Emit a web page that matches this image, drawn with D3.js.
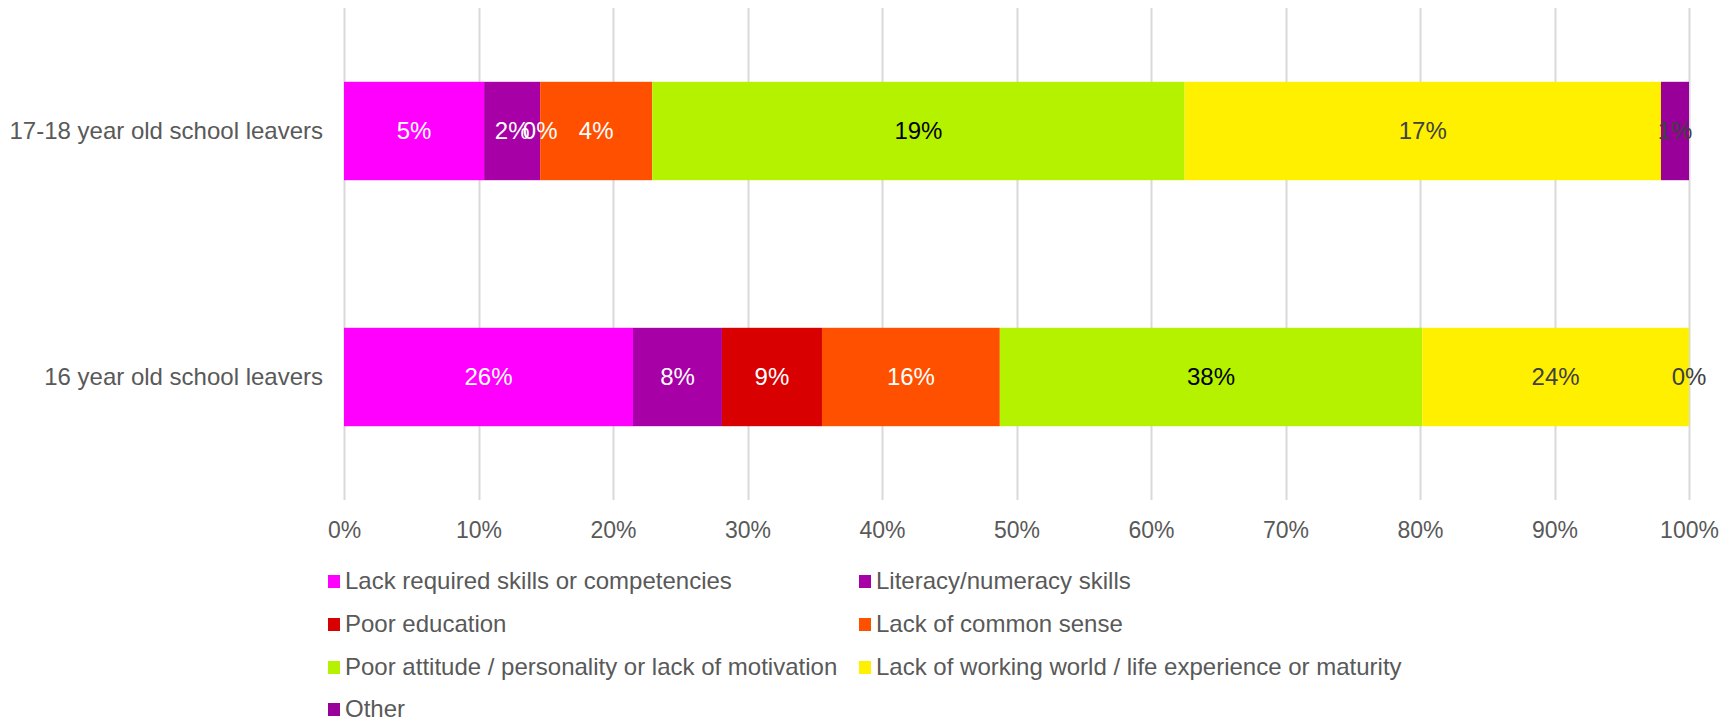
<!DOCTYPE html>
<html lang="en">
<head>
<meta charset="utf-8">
<title>School leavers stacked bar</title>
<script src="https://d3js.org/d3.v7.min.js"></script>
<style>
  body { margin: 0; background: #fff; }
  text { font-family: "Liberation Sans", Arial, sans-serif; }
</style>
</head>
<body>
<script>
// categories, top to bottom
var categories = ["17-18 year old school leavers", "16 year old school leavers"];
var series = ["Lack required skills or competencies", "Literacy/numeracy skills",
  "Poor education", "Lack of common sense",
  "Poor attitude / personality or lack of motivation", "Lack of working world / life experience or maturity",
  "Other"];
var colors = ["#ff00ff", "#a600a6", "#d80000", "#ff5000", "#b4f200", "#fff000", "#990099"];
var labelColors = ["#fff", "#fff", "#fff", "#fff", "#000", "#404040", "#404040"];
// value shown per segment (%)
var values1718 = [5, 2, 0, 4, 19, 17, 1];
var values16 = [26, 8, 9, 16, 38, 24, 0];
var ticks = [0, 0.1, 0.2, 0.3, 0.4, 0.5, 0.6, 0.7, 0.8, 0.9, 1];

var W = 1726, H = 720;
var svg = d3.select("body").append("svg").attr("width", W).attr("height", H);

var rows = [values1718, values16].map(function(v, i) {
  var r = { cat: categories[i] };
  series.forEach(function(s, j) { r[s] = v[j]; });
  return r;
});

var stack = d3.stack().keys(series).offset(d3.stackOffsetExpand);
var layers = stack(rows);

var x = d3.scaleLinear().domain([0, 1]).range([344, 1689]);
var y = d3.scaleBand().domain(categories).range([8, 500]).paddingInner(0.6).paddingOuter(0.3);

// grid
svg.append("g").selectAll("line").data(ticks).enter().append("line")
  .attr("x1", function(d) { return Math.round(x(d)) + 0.5; })
  .attr("x2", function(d) { return Math.round(x(d)) + 0.5; })
  .attr("y1", 8).attr("y2", 500)
  .attr("stroke", "#d9d9d9").attr("stroke-width", 2);

// bars
var g = svg.append("g").selectAll("g").data(layers).enter().append("g")
  .attr("fill", function(d, i) { return colors[i]; });
g.selectAll("rect").data(function(d) { return d; }).enter().append("rect")
  .attr("x", function(d) { return x(d[0]); })
  .attr("width", function(d) { return x(d[1]) - x(d[0]); })
  .attr("y", function(d) { return y(d.data.cat); })
  .attr("height", y.bandwidth());

// segment labels
layers.forEach(function(layer, i) {
  svg.append("g").selectAll("text").data(layer).enter().append("text")
    .attr("x", function(d) { return (x(d[0]) + x(d[1])) / 2; })
    .attr("y", function(d) { return y(d.data.cat) + y.bandwidth() / 2; })
    .attr("dy", "0.35em")
    .attr("text-anchor", "middle")
    .attr("font-size", "24px")
    .attr("fill", labelColors[i])
    .text(function(d) { return d.data[layer.key] + "%"; });
});

// category labels
svg.append("g").selectAll("text").data(categories).enter().append("text")
  .attr("x", 323)
  .attr("y", function(d) { return y(d) + y.bandwidth() / 2; })
  .attr("dy", "0.35em")
  .attr("text-anchor", "end")
  .attr("font-size", "24px")
  .attr("fill", "#595959")
  .text(function(d) { return d; });

// x axis labels
var xAxis = d3.axisBottom(x).tickValues(ticks).tickSize(0).tickPadding(0)
  .tickFormat(d3.format(".0%"));
var ax = svg.append("g").attr("transform", "translate(0,522)").call(xAxis);
ax.select(".domain").remove();
ax.selectAll("text").attr("font-size", "23px").attr("fill", "#595959")
  .attr("font-family", "Liberation Sans, Arial, sans-serif");

// legend
var legX = [328, 859], legY = [581, 624, 667, 709];
var leg = svg.append("g").selectAll("g").data(series).enter().append("g")
  .attr("transform", function(d, i) {
    return "translate(" + legX[i % 2] + "," + legY[Math.floor(i / 2)] + ")";
  });
leg.append("rect").attr("x", 0).attr("y", -6).attr("width", 12).attr("height", 13)
  .attr("fill", function(d, i) { return colors[i]; });
leg.append("text").attr("x", 17).attr("dy", "0.35em")
  .attr("font-size", "24px").attr("fill", "#595959")
  .text(function(d) { return d; });
</script>
</body>
</html>
